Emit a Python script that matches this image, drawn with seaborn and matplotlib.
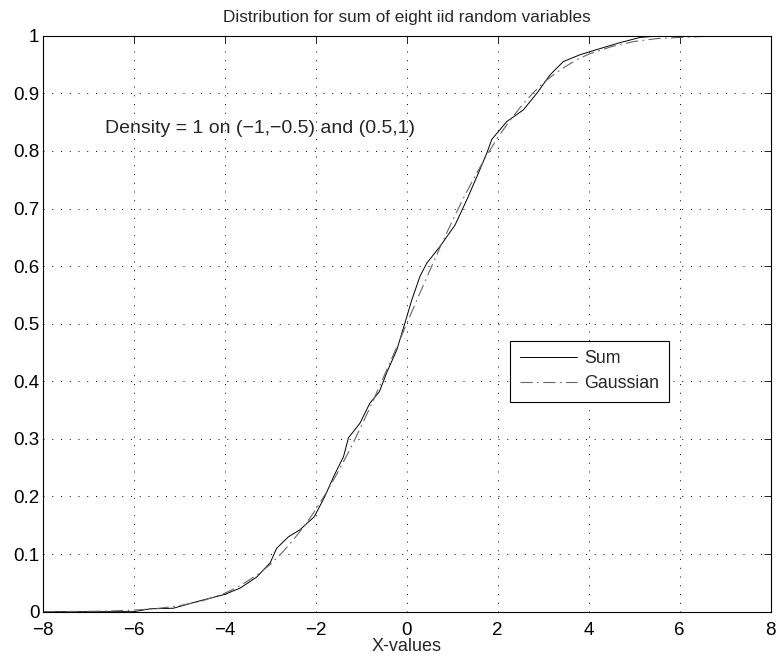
import numpy as np
import pandas as pd
import matplotlib
matplotlib.use("Agg")
import matplotlib.pyplot as plt
import seaborn as sns

sum_x = [-8.0, -6.0, -5.64, -5.13, -4.54, -4.0, -3.66, -3.3, -3.0, -2.86, -2.6,
         -2.35, -2.03, -1.80, -1.61, -1.39, -1.28, -1.03, -0.81, -0.60, -0.44,
         -0.22, -0.04, 0.11, 0.29, 0.44, 0.73, 1.06, 1.32, 1.54, 1.76, 1.87,
         2.20, 2.56, 2.86, 3.15, 3.44, 3.81, 4.18, 4.69, 5.13, 5.6, 6.0, 8.0]
sum_y = [0.0, 0.0, 0.005, 0.006, 0.019, 0.030, 0.041, 0.060, 0.085, 0.110, 0.130,
         0.142, 0.165, 0.200, 0.234, 0.269, 0.302, 0.327, 0.362, 0.382, 0.415,
         0.454, 0.501, 0.541, 0.582, 0.605, 0.634, 0.671, 0.715, 0.755, 0.796, 0.820,
         0.851, 0.871, 0.900, 0.932, 0.955, 0.967, 0.976, 0.988, 0.997, 1.0, 1.0, 1.0]

# Gaussian reference curve
gauss_x = [-8.0, -7.5, -7.0, -6.5, -6.0, -5.5, -5.0, -4.5, -4.0, -3.75, -3.5, -3.25,
           -3.0, -2.75, -2.5, -2.25, -2.0, -1.75, -1.5, -1.25, -1.0, -0.75, -0.5,
           -0.25, 0.0, 0.25, 0.5, 0.75, 1.0, 1.25, 1.5, 1.75, 2.0, 2.25, 2.5, 2.75,
           3.0, 3.25, 3.5, 3.75, 4.0, 4.5, 5.0, 5.5, 6.0, 6.5, 7.0, 7.5, 8.0]
gauss_y = [0.0001, 0.0003, 0.0006, 0.0013, 0.0027, 0.0054, 0.0103, 0.0186, 0.032,
           0.0413, 0.053, 0.0662, 0.082, 0.1015, 0.124, 0.1488, 0.177, 0.209, 0.244,
           0.2814, 0.322, 0.3643, 0.409, 0.4539, 0.5, 0.5461, 0.591, 0.6357, 0.678,
           0.7186, 0.756, 0.791, 0.823, 0.8512, 0.876, 0.8985, 0.918, 0.9338, 0.947,
           0.9587, 0.968, 0.981, 0.990, 0.995, 0.997, 0.9987, 0.9994, 0.9997, 0.9999]

x_ticks = [-8, -6, -4, -2, 0, 2, 4, 6, 8]
y_ticks = [0, 0.1, 0.2, 0.3, 0.4, 0.5, 0.6, 0.7, 0.8, 0.9, 1]
y_labels = ['0', '0.1', '0.2', '0.3', '0.4', '0.5', '0.6', '0.7', '0.8', '0.9', '1']

sns.set_style('white')
plt.rcParams['font.family'] = ['Liberation Sans', 'DejaVu Sans']

fig = plt.figure(figsize=(7.77, 6.6), dpi=100)
ax = fig.add_axes([0.055, 0.0732, 0.9369, 0.8727])

sum_df = pd.DataFrame({'x': sum_x, 'y': sum_y})
gauss_df = pd.DataFrame({'x': gauss_x, 'y': gauss_y})

sns.lineplot(data=sum_df, x='x', y='y', ax=ax, color='black', lw=0.7,
             label='Sum', sort=False, estimator=None)
sns.lineplot(data=gauss_df, x='x', y='y', ax=ax, color='0.4', lw=0.8,
             linestyle=(0, (11, 4, 1.5, 4)), label='Gaussian', sort=False, estimator=None)

ax.set_xlim(-8, 8)
ax.set_ylim(0, 1)
ax.set_xticks(x_ticks)
ax.set_yticks(y_ticks)
ax.set_yticklabels(y_labels)

ax.grid(True, color='black', linestyle=(0, (1, 8)), lw=0.7)
for s in ax.spines.values():
    s.set_color('black')
    s.set_linewidth(0.8)
    s.set_visible(True)
ax.tick_params(direction='in', length=5, width=0.6, top=True, right=True,
               labelsize=13.5, colors='black')
ax.tick_params(axis='y', pad=2.5)
ax.tick_params(axis='x', pad=7.5)

ax.set_title('Distribution for sum of eight iid random variables', fontsize=12.3, pad=10)
ax.set_xlabel('X-values', fontsize=13, labelpad=-1)
ax.set_ylabel('')

ax.text(-6.63, 0.831, 'Density = 1 on (\u22121,\u22120.5) and (0.5,1)', fontsize=14,
        va='baseline', ha='left')

leg = ax.legend(loc='upper left', bbox_to_anchor=(0.642, 0.4705), frameon=True,
                fancybox=False, edgecolor='black', framealpha=1, fontsize=12.8,
                handlelength=3.2, handletextpad=0.4, labelspacing=0.45, borderpad=0.55,
                borderaxespad=0)
leg.get_frame().set_linewidth(0.8)

fig.savefig('out.png', dpi=100, facecolor='white')
